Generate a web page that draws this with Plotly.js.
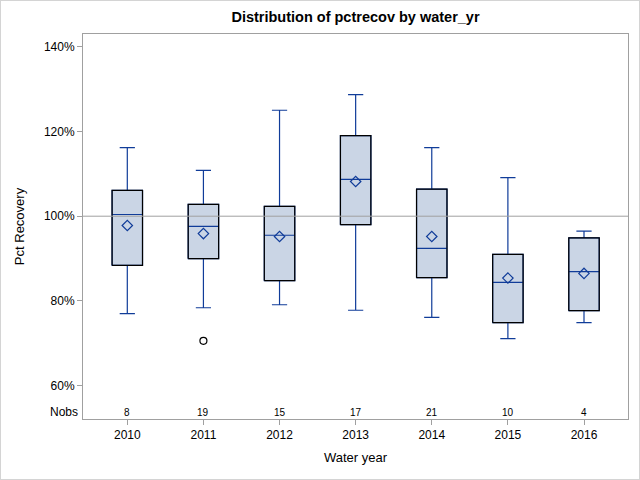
<!DOCTYPE html>
<html>
<head>
<meta charset="utf-8">
<script src="https://cdn.plot.ly/plotly-3.0.1.min.js"></script>
<style>
  html, body { margin: 0; padding: 0; background: #fff; }
  #wrap { position: relative; width: 640px; height: 480px; }
  #chart { width: 640px; height: 480px; }
  #frame { position: absolute; left: 0; top: 0; width: 640px; height: 480px; box-sizing: border-box; border: 1px solid #d4d4d4; pointer-events: none; }
</style>
</head>
<body>
<div id="wrap"><div id="chart"></div><div id="frame"></div></div>
<script>
// ---- data ----
var years = ['2010', '2011', '2012', '2013', '2014', '2015', '2016'];
var nobs = [8, 19, 15, 17, 21, 10, 4];
var q1 = [88.4, 90.0, 84.8, 98.0, 85.5, 74.9, 77.7];
var median = [100.4, 97.6, 95.5, 108.7, 92.4, 84.4, 86.9];
var q3 = [106.1, 102.8, 102.3, 119.0, 106.4, 91.0, 94.9];
var lowerWhisker = [77.0, 78.4, 79.1, 77.8, 76.1, 71.1, 74.9];
var upperWhisker = [116.2, 110.8, 125.0, 128.7, 116.2, 109.1, 96.5];
var means = [97.8, 95.9, 95.2, 108.2, 95.2, 85.4, 86.5];
var outlierYears = ['2011'];
var outlierValues = [70.6];
var yTickVals = [60, 80, 100, 120, 140];
var referenceValue = 100;

// ---- styling ----
var BLUE = '#103c99';
var FILL = '#cad5e5';
var GREY = '#a0a0a0';
var FONT = 'Liberation Sans, Arial, sans-serif';
var BOXW = 0.4;

var idx = years.map(function (_, i) { return i; });

var boxTrace = {
  type: 'box',
  x: idx,
  q1: q1,
  median: median,
  q3: q3,
  lowerfence: lowerWhisker,
  upperfence: upperWhisker,
  width: BOXW,
  whiskerwidth: 0.5,
  fillcolor: FILL,
  line: { color: BLUE, width: 1.2 },
  boxpoints: false,
  hoverinfo: 'skip',
  showlegend: false
};

// black outline of each box (q1..q3) built from the data arrays
var ox = [], oy = [];
idx.forEach(function (i) {
  var a = i - BOXW / 2, b = i + BOXW / 2;
  ox.push(a, b, b, a, a, null);
  oy.push(q1[i], q1[i], q3[i], q3[i], q1[i], null);
});
var outlineTrace = {
  type: 'scatter', mode: 'lines', x: ox, y: oy,
  line: { color: '#000', width: 1.2 },
  hoverinfo: 'skip', showlegend: false
};

var meanTrace = {
  type: 'scatter', mode: 'markers', x: idx, y: means,
  marker: { symbol: 'diamond-open', size: 8, color: BLUE, line: { color: BLUE, width: 1.2 } },
  hoverinfo: 'skip', showlegend: false
};

var outlierTrace = {
  type: 'scatter', mode: 'markers',
  x: outlierYears.map(function (y) { return years.indexOf(y); }),
  y: outlierValues,
  marker: { symbol: 'circle-open', size: 7, color: '#000', line: { color: '#000', width: 1.2 } },
  hoverinfo: 'skip', showlegend: false
};

var annotations = idx.map(function (i) {
  return {
    x: i, xref: 'x', y: 0.018, yref: 'paper',
    text: String(nobs[i]), showarrow: false,
    xanchor: 'center', yanchor: 'middle',
    font: { family: FONT, size: 10, color: '#000' }
  };
});
annotations.push({
  x: 0, xref: 'paper', y: 0.018, yref: 'paper', xshift: -3,
  text: 'Nobs', showarrow: false, xanchor: 'right', yanchor: 'middle',
  font: { family: FONT, size: 12, color: '#000' }
});

var layout = {
  width: 640, height: 480,
  margin: { l: 83, r: 12, t: 34, b: 61, pad: 0 },
  paper_bgcolor: '#fff', plot_bgcolor: '#fff',
  font: { family: FONT, size: 12, color: '#000' },
  title: {
    text: '<b>Distribution of pctrecov by water_yr</b>',
    font: { family: FONT, size: 14.5, color: '#000' },
    x: 0.5, xref: 'paper', xanchor: 'center',
    y: 21, yref: 'container', yanchor: 'middle'
  },
  showlegend: false,
  xaxis: {
    range: [-0.582, 6.578],
    tickmode: 'array', tickvals: idx, ticktext: years,
    ticks: 'outside', ticklen: 5, tickcolor: GREY, tickwidth: 1,
    showgrid: false, zeroline: false,
    showline: true, linecolor: GREY, linewidth: 1, mirror: true,
    tickfont: { family: FONT, size: 12, color: '#000' },
    title: { text: 'Water year', font: { family: FONT, size: 13, color: '#000' }, standoff: 11 },
    fixedrange: true
  },
  yaxis: {
    range: [52.14, 143.0],
    tickmode: 'array', tickvals: yTickVals,
    ticktext: yTickVals.map(function (v) { return v + '%'; }),
    ticks: 'outside', ticklen: 5, tickcolor: GREY, tickwidth: 1,
    showgrid: false, zeroline: false,
    showline: true, linecolor: GREY, linewidth: 1, mirror: true,
    tickfont: { family: FONT, size: 12, color: '#000' },
    title: { text: 'Pct Recovery', font: { family: FONT, size: 13, color: '#000' }, standoff: 16 },
    fixedrange: true
  },
  shapes: [{
    type: 'line', xref: 'paper', x0: 0, x1: 1, yref: 'y', y0: referenceValue, y1: referenceValue,
    line: { color: GREY, width: 1 }, layer: 'above'
  }],
  annotations: annotations
};

Plotly.newPlot('chart', [boxTrace, outlineTrace, meanTrace, outlierTrace], layout, { staticPlot: true, displayModeBar: false });
</script>
</body>
</html>
